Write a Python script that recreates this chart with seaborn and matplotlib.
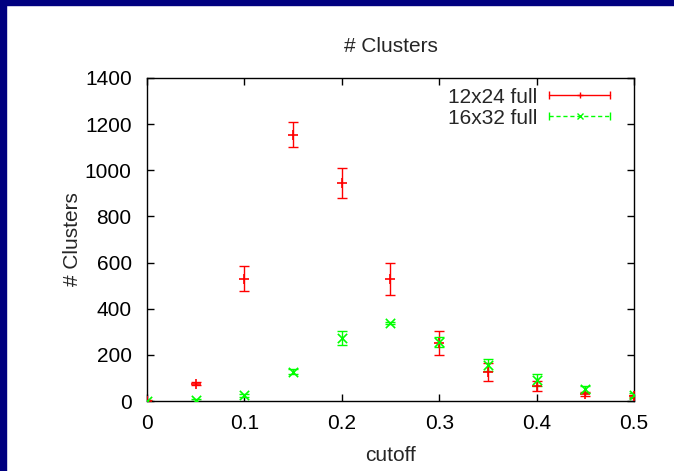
import matplotlib
matplotlib.use("Agg")
import matplotlib.pyplot as plt
import seaborn as sns
import numpy as np
import pandas as pd
from matplotlib.lines import Line2D
from matplotlib.patches import Rectangle
from matplotlib.legend_handler import HandlerBase

cutoff = [0.0, 0.05, 0.10, 0.15, 0.20, 0.25, 0.30, 0.35, 0.40, 0.45, 0.50]
red_vals = [2, 75, 530, 1155, 945, 530, 250, 125, 65, 30, 20]
red_err = [3, 6, 55, 55, 65, 70, 52, 40, 20, 10, 6]
green_vals = [0, 5, 25, 127, 272, 337, 257, 157, 90, 50, 25]
green_err = [2, 3, 6, 10, 30, 5, 22, 25, 27, 17, 8]
series_names = ["12x24 full", "16x32 full"]
colors = ["#ff0000", "#00ff00"]
markers = ["+", "x"]
xticks = [0, 0.1, 0.2, 0.3, 0.4, 0.5]
yticks = [0, 200, 400, 600, 800, 1000, 1200, 1400]

sns.set_theme(style="ticks")
plt.rcParams["font.family"] = ["Liberation Sans", "DejaVu Sans"]
FS = 15

df = pd.DataFrame({
    "cutoff": cutoff * 2,
    "value": red_vals + green_vals,
    "err": red_err + green_err,
    "series": [series_names[0]] * len(cutoff) + [series_names[1]] * len(cutoff),
})

fig = plt.figure(figsize=(6.74, 4.71), dpi=100)
ax = fig.add_axes([0.218, 0.1486, 0.7227, 0.6858])

for name, col, mk in zip(series_names, colors, markers):
    d = df[df["series"] == name]
    ax.errorbar(d["cutoff"], d["value"], yerr=d["err"], fmt="none",
                ecolor=col, elinewidth=1.0, capsize=3.5, capthick=1.0)
    sns.scatterplot(data=d, x="cutoff", y="value", ax=ax, color=col,
                    marker=mk, s=45, linewidth=1.2, legend=False, zorder=3)

class CapHandler(HandlerBase):
    def __init__(self, color, ls, marker):
        super().__init__()
        self.color, self.ls, self.marker = color, ls, marker
    def create_artists(self, legend, orig_handle, xdescent, ydescent, width,
                       height, fontsize, trans):
        y = height / 2 - ydescent
        x0, x1 = -xdescent, width - xdescent
        line = Line2D([x0, x1], [y, y], color=self.color, linestyle=self.ls,
                      linewidth=1.0, transform=trans)
        caps = Line2D([x0, x1], [y, y], color=self.color, linestyle="none",
                      marker="|", markersize=6, markeredgewidth=1.0, transform=trans)
        mid = Line2D([(x0 + x1) / 2], [y], color=self.color, linestyle="none",
                     marker=self.marker, markersize=5, markeredgewidth=1.0,
                     transform=trans)
        return [line, caps, mid]

h1 = Line2D([], [], color=colors[0])
h2 = Line2D([], [], color=colors[1])
ax.legend([h1, h2], series_names,
          handler_map={h1: CapHandler(colors[0], "-", "+"),
                       h2: CapHandler(colors[1], (0, (3, 2)), "x")},
          loc="upper right", bbox_to_anchor=(0.959, 0.983),
          frameon=False, markerfirst=False,
          fontsize=FS, handlelength=2.9, handletextpad=0.6,
          labelspacing=0.1, borderaxespad=0.0, borderpad=0.2)

ax.set_xlim(0, 0.5)
ax.set_ylim(0, 1400)
ax.set_xticks(xticks)
ax.set_xticklabels([f"{t:g}" for t in xticks])
ax.set_yticks(yticks)
ax.tick_params(direction="in", length=5, width=1, top=True, right=True,
               labelsize=FS, colors="black")
ax.tick_params(axis="x", pad=9)
ax.tick_params(axis="y", pad=11)
for s in ax.spines.values():
    s.set_visible(True)
    s.set_color("black")
    s.set_linewidth(1.0)

ax.set_title("# Clusters", fontsize=FS, pad=18.5)
ax.set_xlabel("cutoff", fontsize=FS, labelpad=10)
ax.set_ylabel("# Clusters", fontsize=FS, labelpad=2)

fig.patches.append(Rectangle((0, 1 - 5 / 471), 1, 5 / 471, transform=fig.transFigure,
                             color="#000080", zorder=10))
fig.patches.append(Rectangle((0, 0), 6 / 674, 1, transform=fig.transFigure,
                             color="#000080", zorder=10))

fig.savefig("out.png", dpi=100)
